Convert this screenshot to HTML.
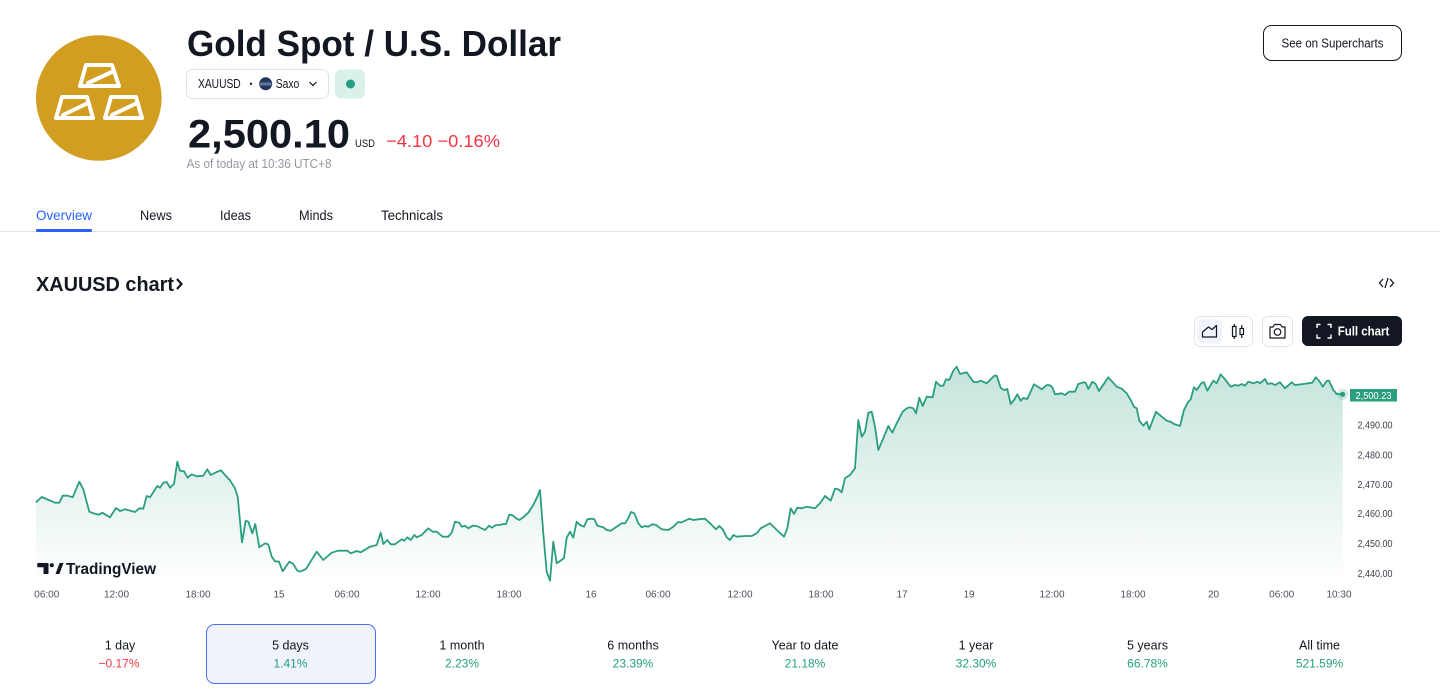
<!DOCTYPE html>
<html>
<head>
<meta charset="utf-8">
<style>
  html,body{margin:0;padding:0;background:#fff;}
  svg{display:block;}
  text{font-family:"Liberation Sans", Arial, sans-serif;}
</style>
</head>
<body>
<svg width="1440" height="700" viewBox="0 0 1440 700" xmlns="http://www.w3.org/2000/svg">
  <defs>
    <linearGradient id="fillg" x1="0" y1="366" x2="0" y2="582" gradientUnits="userSpaceOnUse">
      <stop offset="0" stop-color="#2b9e80" stop-opacity="0.28"/>
      <stop offset="1" stop-color="#2b9e80" stop-opacity="0.0"/>
    </linearGradient>
  </defs>
  <rect width="1440" height="700" fill="#fff"/>

  <!-- Logo -->
  <circle cx="98.8" cy="98" r="62.8" fill="#d19e22"/>
  <g fill="none" stroke="#fff" stroke-width="4" stroke-linejoin="round" stroke-linecap="round">
    <path d="M86,65 L112,65 L119,86 L80,86 Z"/>
    <path d="M88,83 L114,71"/>
    <path d="M62,97 L87,97 L93,118 L56,118 Z"/>
    <path d="M63,115 L88,103"/>
    <path d="M111,97 L136,97 L142,118 L105,118 Z"/>
    <path d="M112,115 L137,103"/>
  </g>

  <!-- Title -->
  <text x="187" y="56" font-size="36" font-weight="700" fill="#131722" textLength="374" lengthAdjust="spacingAndGlyphs">Gold Spot / U.S. Dollar</text>

  <!-- Symbol pill -->
  <rect x="186.5" y="69.5" width="142" height="29" rx="6" fill="#fff" stroke="#e0e3eb"/>
  <text x="198" y="88" font-size="12.5" fill="#131722" textLength="42.7" lengthAdjust="spacingAndGlyphs">XAUUSD</text>
  <circle cx="251" cy="83.8" r="1.2" fill="#131722"/>
  <circle cx="265.7" cy="83.8" r="6.5" fill="#22365c"/>
  <rect x="260" y="82.5" width="11.4" height="3" fill="#8aa3c9" opacity="0.6"/>
  <text x="275.7" y="88" font-size="12.5" fill="#131722" textLength="23.6" lengthAdjust="spacingAndGlyphs">Saxo</text>
  <path d="M309.5,82 L313,85.5 L316.5,82" fill="none" stroke="#131722" stroke-width="1.2"/>
  <rect x="335" y="69.5" width="30" height="29" rx="6" fill="#daf1eb"/>
  <circle cx="350.5" cy="84" r="4.5" fill="#22a07f"/>

  <!-- Price -->
  <text x="188" y="147.5" font-size="40" font-weight="700" fill="#131722" textLength="162" lengthAdjust="spacingAndGlyphs">2,500.10</text>
  <text x="355" y="147" font-size="11" fill="#131722" textLength="20" lengthAdjust="spacingAndGlyphs">USD</text>
  <text x="386" y="147" font-size="17.5" fill="#f23645" textLength="114" lengthAdjust="spacingAndGlyphs">−4.10 −0.16%</text>
  <text x="186.5" y="168" font-size="12.5" fill="#9598a1" textLength="145" lengthAdjust="spacingAndGlyphs">As of today at 10:36 UTC+8</text>

  <!-- See on Supercharts -->
  <rect x="1263.5" y="25.5" width="138" height="35" rx="8" fill="#fff" stroke="#131722"/>
  <text x="1332.5" y="47.5" font-size="13" fill="#131722" text-anchor="middle" textLength="102" lengthAdjust="spacingAndGlyphs">See on Supercharts</text>

  <!-- Tabs -->
  <text x="36" y="220" font-size="14" fill="#2962ff" textLength="56" lengthAdjust="spacingAndGlyphs">Overview</text>
  <text x="140" y="220" font-size="14" fill="#131722" textLength="32" lengthAdjust="spacingAndGlyphs">News</text>
  <text x="220" y="220" font-size="14" fill="#131722" textLength="31" lengthAdjust="spacingAndGlyphs">Ideas</text>
  <text x="299" y="220" font-size="14" fill="#131722" textLength="34" lengthAdjust="spacingAndGlyphs">Minds</text>
  <text x="381" y="220" font-size="14" fill="#131722" textLength="62" lengthAdjust="spacingAndGlyphs">Technicals</text>
  <line x1="0" y1="231.5" x2="1440" y2="231.5" stroke="#e0e3eb" stroke-width="1"/>
  <rect x="36" y="229" width="56" height="3" rx="1" fill="#2962ff"/>

  <!-- Chart heading -->
  <text x="36" y="291" font-size="20" font-weight="700" fill="#131722" textLength="138" lengthAdjust="spacingAndGlyphs">XAUUSD chart</text>
  <path d="M177,279 L181.5,284 L177,289" fill="none" stroke="#131722" stroke-width="2.2"/>
  <!-- embed icon -->
  <path d="M1383,279 L1379.5,283 L1383,287 M1390,279 L1393.5,283 L1390,287 M1388,278 L1385,288" fill="none" stroke="#131722" stroke-width="1.3"/>

  <!-- Toolbar -->
  <rect x="1194.5" y="316.5" width="58" height="30" rx="6" fill="#fff" stroke="#e0e3eb"/>
  <rect x="1197.5" y="319.5" width="25" height="24" rx="4" fill="#f0f3fa"/>
  <path d="M1202.5,337 L1216.5,337 L1216.5,325.5 L1212,329.5 L1208.5,327 L1202.5,332 Z" fill="none" stroke="#131722" stroke-width="1.2" stroke-linejoin="round"/>
  <g fill="none" stroke="#131722" stroke-width="1.2">
    <rect x="1232.5" y="326.5" width="3.5" height="10"/>
    <line x1="1234.25" y1="324" x2="1234.25" y2="326.5"/>
    <line x1="1234.25" y1="336.5" x2="1234.25" y2="339"/>
    <rect x="1240" y="328.5" width="3.5" height="6"/>
    <line x1="1241.75" y1="325" x2="1241.75" y2="328.5"/>
    <line x1="1241.75" y1="334.5" x2="1241.75" y2="338"/>
  </g>
  <rect x="1262.5" y="316.5" width="30" height="30" rx="6" fill="#fff" stroke="#e0e3eb"/>
  <path d="M1270,327 L1273,327 L1274.5,324.5 L1280.5,324.5 L1282,327 L1285,327 L1285,338 L1270,338 Z" fill="none" stroke="#131722" stroke-width="1.2" stroke-linejoin="round"/>
  <circle cx="1277.5" cy="332" r="3.3" fill="none" stroke="#131722" stroke-width="1.2"/>
  <rect x="1302" y="316" width="100" height="30" rx="6" fill="#131722"/>
  <g fill="none" stroke="#fff" stroke-width="1.4">
    <path d="M1317,328 L1317,324.5 L1320.5,324.5"/>
    <path d="M1327.5,324.5 L1331,324.5 L1331,328"/>
    <path d="M1331,334.5 L1331,338 L1327.5,338"/>
    <path d="M1320.5,338 L1317,338 L1317,334.5"/>
  </g>
  <text x="1337.7" y="335.5" font-size="13" font-weight="700" fill="#fff" textLength="51.6" lengthAdjust="spacingAndGlyphs">Full chart</text>

  <!-- Chart area -->
  <path fill="url(#fillg)" stroke="none" d="M36,502.3 L41.7,497 L55,502.7 L59.3,502.7 L62.7,495.7 L67.7,495.7 L72.7,497.3 L79.3,481.7 L83.3,489.3 L89.3,511.7 L93.3,513.3 L99,514.7 L102.3,512.7 L110,517.3 L116,508 L120,511 L125,509.3 L135,512 L139.3,508.3 L143.3,508.7 L146.7,496 L150,497.3 L157.3,486 L160,487.7 L163.3,482.7 L166.7,482 L170,487.7 L174,484 L177.3,461.7 L180,470.7 L184,471.3 L187.7,477.7 L191.7,474.3 L196.7,476.3 L203.3,475.7 L207.3,469.3 L210.7,475 L216.7,472 L221,470.3 L225,475 L230,480.3 L235,488.3 L237.7,496.7 L242,542.3 L245.7,520.7 L248.3,521.7 L252.3,533.3 L255.3,524 L259.3,547.3 L265,543.3 L268.3,544.3 L271.7,556.7 L275,561.3 L279,561.7 L282.7,571.3 L289.3,561.7 L293.3,564 L297.3,570.7 L300,571.7 L306,569 L316.7,551.7 L323.3,560 L331.7,552.7 L338.3,550.7 L347.3,550.7 L350.7,553.3 L356.7,551 L360.7,552.3 L370,546.7 L376.7,545 L380.7,532.7 L383.3,544 L387.3,540 L390.7,544.3 L395,544.3 L401.7,539.3 L404.3,540.7 L407.3,537.3 L410.7,540 L414.3,535 L416.7,537.3 L421.7,535 L428.3,528.3 L432.7,531.7 L436.7,531.7 L442.7,536.7 L448.3,536.7 L451.7,532.7 L455,521.7 L459.3,522.7 L461.7,526.7 L465,525.7 L468.3,528.3 L472.7,525.7 L476.7,526 L485,530 L489,525.7 L491.7,527.7 L496,525 L500,525 L503.3,524 L506,524 L509.3,514.7 L512.7,515.3 L516,518.3 L519.3,520 L523.3,517.3 L528.3,512.7 L533.3,505 L537.3,496.7 L540,490 L543.3,533.3 L546.7,571.7 L550,580.7 L553.3,541.7 L556.7,563.3 L564,558.3 L566.7,537.7 L570,531.7 L573.3,537.7 L576.7,521.7 L580,525 L584,526.7 L587.3,519.3 L591.7,518.7 L594.3,519.3 L597.3,525.7 L603.3,527.3 L606.7,530 L610.7,530.7 L616.7,526.7 L621.7,523.3 L625,523.3 L627.3,520 L631,512 L634.3,513.3 L638.3,523.3 L641.7,527.3 L645,526 L648.3,526.7 L652.3,524.3 L656,525 L661.7,529.3 L668.3,530 L673.3,526.7 L677.7,522.3 L681.7,522.3 L689.3,518.7 L693.3,520 L698.3,519.3 L705,518.7 L710,523.3 L716,529.3 L719.3,526 L722.7,529.3 L726.7,537.3 L730,540 L733.3,535 L736.7,536.7 L745,536 L751.7,536 L756.7,533.3 L760.7,528.3 L770,523.3 L776.7,530 L784,536.7 L787.3,528.3 L790.7,508.3 L794,514 L797.3,507.7 L801.7,508.3 L806.7,506.7 L815,508.3 L820,503.3 L825,496 L830.7,500.7 L835,488.7 L838.3,489.3 L841.7,492.3 L845,478.3 L850,475 L855,468.3 L858.3,420 L861.7,436.7 L865,431.7 L868.3,412.7 L871.7,411.7 L875,426.7 L878.3,450 L883.3,438.3 L888.3,426 L892.3,432.7 L896.7,423.3 L902.7,411.7 L906.7,408.3 L910,407.3 L913.3,408.3 L916,413.3 L919.3,397.7 L922.7,406 L926.7,396.7 L932.7,397.3 L936,381.7 L940,385.7 L943.3,385.7 L946,379.3 L949.3,380 L953.3,370.7 L956.7,366.7 L960,374 L966.7,372.3 L973.3,381.7 L976.7,382.3 L980.7,380.7 L986.7,383.3 L994.3,375.7 L996.7,375.7 L1000.7,387.7 L1004,390 L1007.3,389 L1010.7,404 L1014,400 L1017.3,394.3 L1020.7,400.7 L1023.3,398 L1027.3,399 L1034,384.3 L1041.7,389.3 L1046.7,385 L1050,385.3 L1052.3,387.3 L1055,394.3 L1061.7,393.3 L1065,395 L1069,391.7 L1075,391.7 L1078.3,384 L1083.3,382.3 L1085.7,382.7 L1088.3,389 L1092.3,381.7 L1095.7,384 L1099,391 L1108.3,377.3 L1116.7,386.7 L1121.7,388.7 L1126.7,393.3 L1130.7,400 L1134,406.7 L1136.7,408.3 L1139.3,420.7 L1143.3,425.7 L1146.7,421.7 L1149.3,429.3 L1156,411.7 L1161.7,416.7 L1167.3,421 L1170.7,421.7 L1174,424 L1180,426 L1184,410 L1188.3,401.7 L1190.7,399.3 L1194,387.3 L1196.7,390 L1201.7,382.7 L1204,382.3 L1207.3,390.7 L1213.3,380.7 L1216.7,383.3 L1220.7,374.3 L1225,379.3 L1230.7,386.7 L1235,385 L1238.3,385.7 L1241.7,384 L1245,385.7 L1248.3,381.7 L1253.3,383.3 L1257.7,381.7 L1260,383.3 L1265,379 L1267.7,384 L1271.7,383.3 L1275,385 L1280,382.3 L1285,388.3 L1291.7,382.3 L1295,385 L1303.3,384 L1312.3,382.7 L1315.7,377.3 L1319.3,381 L1322.7,386.7 L1326.7,381 L1329,380.7 L1333.3,390 L1336.7,394 L1342.7,394 L1342.7,582 L36,582 Z"/>
  <path fill="none" stroke="#2b9e80" stroke-width="1.8" stroke-linejoin="round" d="M36,502.3 L41.7,497 L55,502.7 L59.3,502.7 L62.7,495.7 L67.7,495.7 L72.7,497.3 L79.3,481.7 L83.3,489.3 L89.3,511.7 L93.3,513.3 L99,514.7 L102.3,512.7 L110,517.3 L116,508 L120,511 L125,509.3 L135,512 L139.3,508.3 L143.3,508.7 L146.7,496 L150,497.3 L157.3,486 L160,487.7 L163.3,482.7 L166.7,482 L170,487.7 L174,484 L177.3,461.7 L180,470.7 L184,471.3 L187.7,477.7 L191.7,474.3 L196.7,476.3 L203.3,475.7 L207.3,469.3 L210.7,475 L216.7,472 L221,470.3 L225,475 L230,480.3 L235,488.3 L237.7,496.7 L242,542.3 L245.7,520.7 L248.3,521.7 L252.3,533.3 L255.3,524 L259.3,547.3 L265,543.3 L268.3,544.3 L271.7,556.7 L275,561.3 L279,561.7 L282.7,571.3 L289.3,561.7 L293.3,564 L297.3,570.7 L300,571.7 L306,569 L316.7,551.7 L323.3,560 L331.7,552.7 L338.3,550.7 L347.3,550.7 L350.7,553.3 L356.7,551 L360.7,552.3 L370,546.7 L376.7,545 L380.7,532.7 L383.3,544 L387.3,540 L390.7,544.3 L395,544.3 L401.7,539.3 L404.3,540.7 L407.3,537.3 L410.7,540 L414.3,535 L416.7,537.3 L421.7,535 L428.3,528.3 L432.7,531.7 L436.7,531.7 L442.7,536.7 L448.3,536.7 L451.7,532.7 L455,521.7 L459.3,522.7 L461.7,526.7 L465,525.7 L468.3,528.3 L472.7,525.7 L476.7,526 L485,530 L489,525.7 L491.7,527.7 L496,525 L500,525 L503.3,524 L506,524 L509.3,514.7 L512.7,515.3 L516,518.3 L519.3,520 L523.3,517.3 L528.3,512.7 L533.3,505 L537.3,496.7 L540,490 L543.3,533.3 L546.7,571.7 L550,580.7 L553.3,541.7 L556.7,563.3 L564,558.3 L566.7,537.7 L570,531.7 L573.3,537.7 L576.7,521.7 L580,525 L584,526.7 L587.3,519.3 L591.7,518.7 L594.3,519.3 L597.3,525.7 L603.3,527.3 L606.7,530 L610.7,530.7 L616.7,526.7 L621.7,523.3 L625,523.3 L627.3,520 L631,512 L634.3,513.3 L638.3,523.3 L641.7,527.3 L645,526 L648.3,526.7 L652.3,524.3 L656,525 L661.7,529.3 L668.3,530 L673.3,526.7 L677.7,522.3 L681.7,522.3 L689.3,518.7 L693.3,520 L698.3,519.3 L705,518.7 L710,523.3 L716,529.3 L719.3,526 L722.7,529.3 L726.7,537.3 L730,540 L733.3,535 L736.7,536.7 L745,536 L751.7,536 L756.7,533.3 L760.7,528.3 L770,523.3 L776.7,530 L784,536.7 L787.3,528.3 L790.7,508.3 L794,514 L797.3,507.7 L801.7,508.3 L806.7,506.7 L815,508.3 L820,503.3 L825,496 L830.7,500.7 L835,488.7 L838.3,489.3 L841.7,492.3 L845,478.3 L850,475 L855,468.3 L858.3,420 L861.7,436.7 L865,431.7 L868.3,412.7 L871.7,411.7 L875,426.7 L878.3,450 L883.3,438.3 L888.3,426 L892.3,432.7 L896.7,423.3 L902.7,411.7 L906.7,408.3 L910,407.3 L913.3,408.3 L916,413.3 L919.3,397.7 L922.7,406 L926.7,396.7 L932.7,397.3 L936,381.7 L940,385.7 L943.3,385.7 L946,379.3 L949.3,380 L953.3,370.7 L956.7,366.7 L960,374 L966.7,372.3 L973.3,381.7 L976.7,382.3 L980.7,380.7 L986.7,383.3 L994.3,375.7 L996.7,375.7 L1000.7,387.7 L1004,390 L1007.3,389 L1010.7,404 L1014,400 L1017.3,394.3 L1020.7,400.7 L1023.3,398 L1027.3,399 L1034,384.3 L1041.7,389.3 L1046.7,385 L1050,385.3 L1052.3,387.3 L1055,394.3 L1061.7,393.3 L1065,395 L1069,391.7 L1075,391.7 L1078.3,384 L1083.3,382.3 L1085.7,382.7 L1088.3,389 L1092.3,381.7 L1095.7,384 L1099,391 L1108.3,377.3 L1116.7,386.7 L1121.7,388.7 L1126.7,393.3 L1130.7,400 L1134,406.7 L1136.7,408.3 L1139.3,420.7 L1143.3,425.7 L1146.7,421.7 L1149.3,429.3 L1156,411.7 L1161.7,416.7 L1167.3,421 L1170.7,421.7 L1174,424 L1180,426 L1184,410 L1188.3,401.7 L1190.7,399.3 L1194,387.3 L1196.7,390 L1201.7,382.7 L1204,382.3 L1207.3,390.7 L1213.3,380.7 L1216.7,383.3 L1220.7,374.3 L1225,379.3 L1230.7,386.7 L1235,385 L1238.3,385.7 L1241.7,384 L1245,385.7 L1248.3,381.7 L1253.3,383.3 L1257.7,381.7 L1260,383.3 L1265,379 L1267.7,384 L1271.7,383.3 L1275,385 L1280,382.3 L1285,388.3 L1291.7,382.3 L1295,385 L1303.3,384 L1312.3,382.7 L1315.7,377.3 L1319.3,381 L1322.7,386.7 L1326.7,381 L1329,380.7 L1333.3,390 L1336.7,394 L1342.7,394"/>
  <circle cx="1342.7" cy="394.3" r="5.5" fill="#2b9e80" opacity="0.2"/>
  <circle cx="1342.7" cy="394.3" r="2.5" fill="#2b9e80"/>

  <!-- Y axis -->
  <rect x="1350" y="389" width="47" height="12.5" fill="#2b9e80"/>
  <text x="1373.5" y="398.8" font-size="10" fill="#fff" text-anchor="middle" textLength="36" lengthAdjust="spacingAndGlyphs">2,500.23</text>
  <g font-size="10" fill="#3b3f4b" text-anchor="end">
    <text x="1392.5" y="428.5" textLength="35" lengthAdjust="spacingAndGlyphs">2,490.00</text>
    <text x="1392.5" y="458.5" textLength="35" lengthAdjust="spacingAndGlyphs">2,480.00</text>
    <text x="1392.5" y="487.8" textLength="35" lengthAdjust="spacingAndGlyphs">2,470.00</text>
    <text x="1392.5" y="517.2" textLength="35" lengthAdjust="spacingAndGlyphs">2,460.00</text>
    <text x="1392.5" y="547.2" textLength="35" lengthAdjust="spacingAndGlyphs">2,450.00</text>
    <text x="1392.5" y="577.2" textLength="35" lengthAdjust="spacingAndGlyphs">2,440.00</text>
  </g>

  <!-- X axis -->
  <g font-size="10" fill="#4c525e" text-anchor="middle">
    <text x="46.8" y="597.5">06:00</text>
    <text x="116.5" y="597.5">12:00</text>
    <text x="198" y="597.5">18:00</text>
    <text x="279" y="597.5">15</text>
    <text x="347" y="597.5">06:00</text>
    <text x="428" y="597.5">12:00</text>
    <text x="509" y="597.5">18:00</text>
    <text x="591" y="597.5">16</text>
    <text x="658" y="597.5">06:00</text>
    <text x="740" y="597.5">12:00</text>
    <text x="821" y="597.5">18:00</text>
    <text x="902" y="597.5">17</text>
    <text x="969" y="597.5">19</text>
    <text x="1052" y="597.5">12:00</text>
    <text x="1133" y="597.5">18:00</text>
    <text x="1213.5" y="597.5">20</text>
    <text x="1281.7" y="597.5">06:00</text>
    <text x="1339" y="597.5">10:30</text>
  </g>

  <!-- TradingView logo -->
  <g fill="#131722">
    <path d="M37.3,563 L48.5,563 L48.5,574 L43.5,574 L43.5,567.3 L37.3,567.3 Z"/>
    <circle cx="51.8" cy="565.2" r="2.1"/>
    <path d="M55.5,574 L59.6,563 L63.5,563 L59.4,574 Z"/>
  </g>
  <text x="66" y="574" font-size="16" font-weight="700" fill="#131722" textLength="90" lengthAdjust="spacingAndGlyphs">TradingView</text>

  <!-- Period selector -->
  <rect x="206.5" y="624.5" width="169" height="59" rx="8" fill="#f0f3fa" stroke="#4f6ef7"/>
  <g font-size="12.5" fill="#131722" text-anchor="middle">
    <text x="120" y="649.5">1 day</text>
    <text x="290.5" y="649.5">5 days</text>
    <text x="462" y="649.5">1 month</text>
    <text x="633" y="649.5">6 months</text>
    <text x="805" y="649.5">Year to date</text>
    <text x="976" y="649.5">1 year</text>
    <text x="1147.5" y="649.5">5 years</text>
    <text x="1319.5" y="649.5">All time</text>
  </g>
  <g font-size="12" fill="#22a07f" text-anchor="middle">
    <text x="119" y="667.5" fill="#f23645">−0.17%</text>
    <text x="290.5" y="667.5">1.41%</text>
    <text x="462" y="667.5">2.23%</text>
    <text x="633" y="667.5">23.39%</text>
    <text x="805" y="667.5">21.18%</text>
    <text x="976" y="667.5">32.30%</text>
    <text x="1147.5" y="667.5">66.78%</text>
    <text x="1319.5" y="667.5">521.59%</text>
  </g>
</svg>
</body>
</html>
